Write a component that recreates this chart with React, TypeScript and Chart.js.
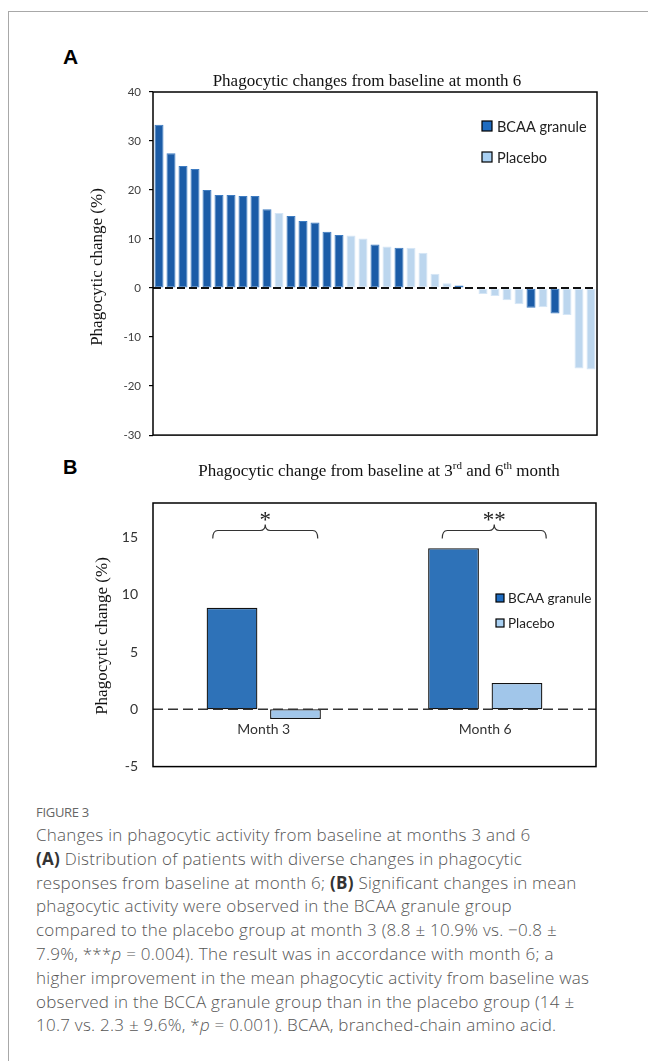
import React, { useEffect, useRef } from 'react';
import { Chart, registerables } from 'chart.js';
Chart.register(...registerables);

// ---------- Data ----------
const seriesNames = ['BCAA granule', 'Placebo'];
const waterfallValues = [
  33.3, 27.5, 24.9, 24.3, 20.0, 19.0, 19.0, 18.8, 18.8, 16.1,
  15.3, 14.7, 13.7, 13.4, 11.5, 10.8, 10.7, 10.1, 8.9, 8.5,
  8.2, 8.2, 7.2, 2.9, 1.0, 0.5, 0, -1.2, -1.6, -2.5,
  -3.3, -4.0, -3.9, -5.2, -5.5, -16.4, -16.6,
];
const waterfallGroups = [
  'B', 'B', 'B', 'B', 'B', 'B', 'B', 'B', 'B', 'B',
  'P', 'B', 'B', 'B', 'B', 'B', 'P', 'P', 'B', 'P',
  'B', 'P', 'P', 'P', 'P', 'B', 'P', 'P', 'P', 'P',
  'P', 'B', 'P', 'B', 'P', 'P', 'P',
];
const waterfallAxis = { min: -30, max: 40, step: 10 };

const monthLabels = ['Month 3', 'Month 6'];
const bcaaMeans = [8.85, 14.05];
const placeboMeans = [-0.85, 2.3];
const meanAxis = { min: -5, max: 18, step: 5, lastTick: 15 };
const significanceMarks = ['*', '**'];
const bracketLevel = 15.6;
const bracketOffsets = [[-51, 54], [-43, 61]];

const titleA = 'Phagocytic changes from baseline at month 6';
const yTitle = 'Phagocytic change (%)';

const SANS = 'Lato, "Open Sans", sans-serif';
const SERIF = '"Liberation Serif", "Times New Roman", serif';

// ---------- Layout (page px) ----------
const A_TOP = 0, A_H = 450;
const B_TOP = 450, B_H = 340;
const W = 648;

function WaterfallChart() {
  const ref = useRef<HTMLCanvasElement | null>(null);
  useEffect(() => {
    const canvas = ref.current!;
    const overlay = {
      id: 'overlayA',
      afterDatasetsDraw(chart: any) {
        const { ctx, chartArea: ca, scales } = chart;
        const y0 = scales.y.getPixelForValue(0);
        ctx.save();
        // zero line
        ctx.strokeStyle = '#111';
        ctx.lineWidth = 2;
        ctx.setLineDash([8, 4]);
        ctx.beginPath();
        ctx.moveTo(ca.left, y0);
        ctx.lineTo(ca.right, y0);
        ctx.stroke();
        ctx.setLineDash([]);
        // frame
        ctx.lineWidth = 1.5;
        ctx.strokeStyle = '#000';
        ctx.strokeRect(ca.left, ca.top, ca.right - ca.left, ca.bottom - ca.top);
        // legend
        const fills = ['#1f6cc0', '#a9d0f2'];
        const ys = [126, 157];
        ctx.font = `14.5px ${SANS}`;
        ctx.textBaseline = 'middle';
        ctx.textAlign = 'left';
        seriesNames.forEach((n, i) => {
          ctx.fillStyle = fills[i];
          ctx.fillRect(482, ys[i] - 5, 10, 10);
          ctx.strokeStyle = '#000';
          ctx.lineWidth = 1.2;
          ctx.strokeRect(482, ys[i] - 5, 10, 10);
          ctx.fillStyle = '#222';
          ctx.fillText(n, 497, ys[i] + 1);
        });
        ctx.restore();
      },
    };
    const chart = new Chart(canvas, {
      type: 'bar',
      data: {
        labels: waterfallValues.map((_, i) => String(i + 1)),
        datasets: [
          {
            label: seriesNames[0],
            data: waterfallValues.map((v, i) => (waterfallGroups[i] === 'B' ? v : null)),
            backgroundColor: '#1b5ca7',
            borderColor: '#3e7cc2',
            borderWidth: 1,
            borderSkipped: false,
          },
          {
            label: seriesNames[1],
            data: waterfallValues.map((v, i) => (waterfallGroups[i] === 'P' ? v : null)),
            backgroundColor: '#bcd6ee',
            borderColor: '#d5e6f6',
            borderWidth: 1,
            borderSkipped: false,
          },
        ],
      },
      options: {
        animation: false,
        responsive: false,
        barPercentage: 0.75,
        categoryPercentage: 1,
        layout: { padding: { left: 153 - 40, right: W - 597, top: 92 - A_TOP, bottom: A_TOP + A_H - 438 } },
        scales: {
          x: { display: false, stacked: true, offset: true },
          y: {
            stacked: true,
            min: waterfallAxis.min,
            max: waterfallAxis.max,
            ticks: { stepSize: waterfallAxis.step, padding: 8, color: '#404040', font: { family: SANS, size: 11.5 } },
            grid: { display: true, drawOnChartArea: false, drawTicks: true, tickLength: 4, color: '#000', lineWidth: 1.2 },
            border: { display: false },
            afterFit: (s: any) => { s.width = 40; },
          },
        },
        plugins: { legend: { display: false }, tooltip: { enabled: false } },
      } as any,
      plugins: [overlay],
    });
    return () => chart.destroy();
  }, []);
  return (
    <canvas ref={ref} width={W} height={A_H}
      style={{ position: 'absolute', left: 0, top: A_TOP, width: W, height: A_H }} />
  );
}

function MeanChart() {
  const ref = useRef<HTMLCanvasElement | null>(null);
  useEffect(() => {
    const canvas = ref.current!;
    const overlay = {
      id: 'overlayB',
      afterDatasetsDraw(chart: any) {
        const { ctx, chartArea: ca, scales } = chart;
        const y0 = scales.y.getPixelForValue(0);
        ctx.save();
        ctx.strokeStyle = '#333';
        ctx.lineWidth = 1.6;
        ctx.setLineDash([10, 5]);
        ctx.beginPath();
        ctx.moveTo(ca.left, y0);
        ctx.lineTo(ca.right, y0);
        ctx.stroke();
        ctx.setLineDash([]);
        // frame
        ctx.lineWidth = 1.5;
        ctx.strokeStyle = '#000';
        ctx.strokeRect(ca.left, ca.top, ca.right - ca.left, ca.bottom - ca.top);
        // category labels
        ctx.font = `14px ${SANS}`;
        ctx.fillStyle = '#333';
        ctx.textAlign = 'center';
        ctx.textBaseline = 'middle';
        monthLabels.forEach((m, i) => {
          ctx.fillText(m, scales.x.getPixelForValue(i), y0 + 20);
        });
        // brackets
        const yb = scales.y.getPixelForValue(bracketLevel);
        ctx.strokeStyle = '#333';
        ctx.lineWidth = 1.2;
        significanceMarks.forEach((mark, i) => {
          const c = scales.x.getPixelForValue(i);
          const x1 = c + bracketOffsets[i][0];
          const x2 = c + bracketOffsets[i][1];
          const xm = (x1 + x2) / 2;
          ctx.beginPath();
          ctx.moveTo(x1, yb + 8);
          ctx.quadraticCurveTo(x1, yb, x1 + 5, yb);
          ctx.lineTo(xm - 5, yb);
          ctx.quadraticCurveTo(xm, yb, xm, yb - 6);
          ctx.quadraticCurveTo(xm, yb, xm + 5, yb);
          ctx.lineTo(x2 - 5, yb);
          ctx.quadraticCurveTo(x2, yb, x2, yb + 8);
          ctx.stroke();
          ctx.font = `23px ${SERIF}`;
          ctx.fillStyle = '#222';
          ctx.textAlign = 'center';
          ctx.textBaseline = 'alphabetic';
          ctx.fillText(mark, xm, yb - 4);
        });
        // legend
        const fills = ['#1f6cc0', '#a9d0f2'];
        const ys = [598 - B_TOP, 623 - B_TOP];
        ctx.font = `13.5px ${SANS}`;
        ctx.textAlign = 'left';
        ctx.textBaseline = 'middle';
        seriesNames.forEach((n, i) => {
          ctx.fillStyle = fills[i];
          ctx.fillRect(496, ys[i] - 4, 8, 8);
          ctx.strokeStyle = '#000';
          ctx.lineWidth = 1.2;
          ctx.strokeRect(496, ys[i] - 4, 8, 8);
          ctx.fillStyle = '#222';
          ctx.fillText(n, 508, ys[i] + 1);
        });
        ctx.restore();
      },
    };
    const chart = new Chart(canvas, {
      type: 'bar',
      data: {
        labels: monthLabels,
        datasets: [
          { label: seriesNames[0], data: bcaaMeans, backgroundColor: '#2e72b8', borderColor: '#111', borderWidth: 1.3, borderSkipped: false },
          { label: seriesNames[1], data: placeboMeans, backgroundColor: '#a1c6ea', borderColor: '#111', borderWidth: 1.3, borderSkipped: false },
        ],
      },
      options: {
        animation: false,
        responsive: false,
        barPercentage: 0.8,
        categoryPercentage: 0.573,
        layout: { padding: { left: 153 - 40, right: W - 596, top: 503 - B_TOP, bottom: B_TOP + B_H - 770 } },
        scales: {
          x: { display: false, offset: true },
          y: {
            min: meanAxis.min,
            max: meanAxis.max,
            afterBuildTicks: (s: any) => {
              const t = [];
              for (let v = meanAxis.min; v <= meanAxis.lastTick; v += meanAxis.step) t.push({ value: v });
              s.ticks = t;
            },
            ticks: { padding: 15, color: '#333', font: { family: SANS, size: 14 } },
            grid: { display: false, drawTicks: false },
            border: { display: false },
            afterFit: (s: any) => { s.width = 40; },
          },
        },
        plugins: { legend: { display: false }, tooltip: { enabled: false } },
      } as any,
      plugins: [overlay],
    });
    return () => chart.destroy();
  }, []);
  return (
    <canvas ref={ref} width={W} height={B_H}
      style={{ position: 'absolute', left: 0, top: B_TOP, width: W, height: B_H }} />
  );
}

const abs = (s: React.CSSProperties): React.CSSProperties => ({ position: 'absolute', ...s });

export default function App() {
  const capLine: React.CSSProperties = { whiteSpace: 'nowrap', height: 23.8, lineHeight: '23.8px' };
  const bold: React.CSSProperties = { color: '#333', fontWeight: 700 };
  return (
    <div style={abs({ left: 0, top: 0, width: W, height: 1061, overflow: 'hidden', background: '#fff' })}>
      <div style={abs({ left: 8, top: 11, width: 800, height: 1200, border: '1px solid #a8a8a8' })} />
      <div style={abs({ left: 63, top: 45, font: `bold 21px "Liberation Sans", Arial, sans-serif`, lineHeight: '24px', color: '#000' })}>A</div>
      <div style={abs({ left: 63, top: 455, font: `bold 20px "Liberation Sans", Arial, sans-serif`, lineHeight: '24px', color: '#000' })}>B</div>
      <WaterfallChart />
      <MeanChart />
      <div style={abs({ left: 167, width: 400, top: 71, textAlign: 'center', font: `17px ${SERIF}`, lineHeight: '20px', color: '#111', whiteSpace: 'nowrap' })}>{titleA}</div>
      <div style={abs({ left: 179, width: 400, top: 461, textAlign: 'center', font: `17px ${SERIF}`, lineHeight: '20px', color: '#111', whiteSpace: 'nowrap' })}>
        Phagocytic change from baseline at 3<sup style={{ fontSize: 11, lineHeight: 0 }}>rd</sup> and 6<sup style={{ fontSize: 11, lineHeight: 0 }}>th</sup> month
      </div>
      <div style={abs({ left: 97 - 100, top: 267 - 10, width: 200, textAlign: 'center', font: `17px ${SERIF}`, lineHeight: '20px', color: '#111', transform: 'rotate(-90deg)', whiteSpace: 'nowrap' })}>{yTitle}</div>
      <div style={abs({ left: 102 - 100, top: 636 - 10, width: 200, textAlign: 'center', font: `17px ${SERIF}`, lineHeight: '20px', color: '#111', transform: 'rotate(-90deg)', whiteSpace: 'nowrap' })}>{yTitle}</div>
      <div style={abs({ left: 36, top: 803, font: `13px "Open Sans", sans-serif`, color: '#666', letterSpacing: '-0.3px', lineHeight: '18px' })}>FIGURE 3</div>
      <div style={abs({ left: 36, top: 823, font: `300 17px "Open Sans", sans-serif`, color: '#555', letterSpacing: '0.25px' })}>
        <div style={capLine}>Changes in phagocytic activity from baseline at months 3 and 6</div>
        <div style={capLine}><span style={bold}>(A)</span> Distribution of patients with diverse changes in phagocytic</div>
        <div style={capLine}>responses from baseline at month 6; <span style={bold}>(B)</span> Significant changes in mean</div>
        <div style={capLine}>phagocytic activity were observed in the BCAA granule group</div>
        <div style={capLine}>compared to the placebo group at month 3 (8.8 ± 10.9% vs. −0.8 ±</div>
        <div style={capLine}>7.9%, ***<i>p</i> = 0.004). The result was in accordance with month 6; a</div>
        <div style={capLine}>higher improvement in the mean phagocytic activity from baseline was</div>
        <div style={capLine}>observed in the BCCA granule group than in the placebo group (14 ±</div>
        <div style={capLine}>10.7 vs. 2.3 ± 9.6%, *<i>p</i> = 0.001). BCAA, branched-chain amino acid.</div>
      </div>
    </div>
  );
}
